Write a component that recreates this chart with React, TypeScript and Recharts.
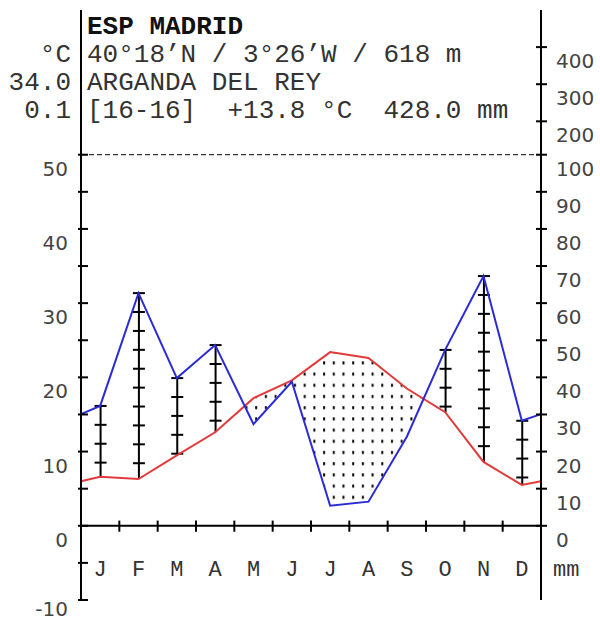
import React from "react";
import { ComposedChart, Line, Area, Bar, XAxis, YAxis, ReferenceLine } from "recharts";

const months = ["J", "F", "M", "A", "M", "J", "J", "A", "S", "O", "N", "D"];
const tempC = [6.6, 6.3, 9.5, 12.6, 17.2, 19.6, 23.4, 22.6, 18.5, 15.3, 8.6, 5.5];
const precipMm = [32.3, 62.7, 39.8, 48.7, 27.4, 38.8, 5.4, 6.5, 24.0, 47.4, 67.3, 28.3];
// values at the left / right border of the diagram
const edgeTemp = 6.0;
const edgePrecip = 30.1;

const leftTicks = [-10, -5, 0, 5, 10, 15, 20, 25, 30, 35, 40, 45, 50];
const rightTicksMm = [0, 10, 20, 30, 40, 50, 60, 70, 80, 90, 100, 200, 300, 400];
const monthBounds = [1, 2, 3, 4, 5, 6, 7, 8, 9, 10, 11];

const headerLines = [
  "ESP MADRID",
  "40°18’N / 3°26’W / 618 m",
  "ARGANDA DEL REY",
  "[16-16]  +13.8 °C  428.0 mm",
];
const headerLeft = ["", "°C", "34.0", "0.1"];

const MONO = "'Liberation Mono', 'DejaVu Sans Mono', monospace";
const SANS = "'DejaVu Sans', Verdana, sans-serif";

// mm -> right axis units (0-100 mm linear, compressed above)
const toAxis = (mm: number) => (mm <= 100 ? mm : 89 + mm / 10);

const rows = [
  { x: 0, t: edgeTemp, p: edgePrecip, hum: null as number[] | null },
  ...months.map((m, i) => ({
    x: i + 0.5,
    t: tempC[i],
    p: precipMm[i],
    hum: precipMm[i] > tempC[i] * 2 ? [tempC[i] * 2, precipMm[i]] : null,
  })),
  { x: 12, t: edgeTemp, p: edgePrecip, hum: null as number[] | null },
];

const LeftTick = (props: any) => {
  const { x, y, payload } = props;
  const v = payload.value;
  return (
    <g>
      <line x1={x - 3} x2={x + 7} y1={y} y2={y} stroke="#000" strokeWidth={2} />
      {v % 10 === 0 && (
        <text
          x={x - 13}
          y={v === -10 ? y + 16 : y + 21}
          textAnchor="end"
          fontFamily={SANS}
          fontSize={20}
          fill="#444"
        >
          {v}
        </text>
      )}
    </g>
  );
};

const RightTick = (props: any) => {
  const { x, y, payload } = props;
  const mm = rightTicksMm.find((m) => Math.abs(toAxis(m) - payload.value) < 0.01);
  return (
    <g>
      <line x1={x - 5} x2={x + 6} y1={y} y2={y} stroke="#000" strokeWidth={2} />
      <text x={x + 15} y={y + 21} textAnchor="start" fontFamily={SANS} fontSize={20} fill="#444">
        {mm}
      </text>
    </g>
  );
};

const MonthTick = (props: any) => {
  const { x, y, payload } = props;
  const i = Math.floor(payload.value);
  return (
    <text x={x} y={y - 24} textAnchor="middle" fontFamily={MONO} fontSize={22} fill="#333">
      {months[i]}
    </text>
  );
};

const HumidBar = (props: any) => {
  const { x, y, width, height } = props;
  if (height == null || Math.abs(height) < 1) return null;
  const top = Math.min(y, y + height);
  const bottom = Math.max(y, y + height);
  const cx = x + width / 2;
  const marks = [];
  for (let ty = top; ty <= bottom + 1; ty += 18.9) {
    marks.push(<line key={ty} x1={cx - 6} x2={cx + 6} y1={ty} y2={ty} stroke="#000" strokeWidth={2} />);
  }
  return (
    <g>
      <line x1={cx} x2={cx} y1={top} y2={bottom} stroke="#000" strokeWidth={2} />
      {marks}
    </g>
  );
};

export default function App() {
  return (
    <div style={{ position: "absolute", left: 0, top: 0, width: 600, height: 621, background: "#fff" }}>
      <svg width={0} height={0} style={{ position: "absolute" }}>
        <defs>
          <pattern id="dots" patternUnits="userSpaceOnUse" width={9.7} height={11.2}>
            <rect x={3} y={3} width={2} height={3} fill="#000" />
          </pattern>
        </defs>
      </svg>
      <ComposedChart width={600} height={621} data={rows} margin={{ top: 10, right: 0, bottom: 0, left: 0 }}>
        <XAxis
          dataKey="x"
          type="number"
          domain={[0, 12]}
          ticks={months.map((_, i) => i + 0.5)}
          interval={0}
          axisLine={false}
          tickLine={false}
          tickSize={0}
          tickMargin={0}
          height={21}
          tick={<MonthTick />}
        />
        <YAxis
          yAxisId="t"
          width={81}
          domain={[-10, 69.5]}
          ticks={leftTicks}
          interval={0}
          tickSize={0}
          tickMargin={0}
          tickLine={false}
          axisLine={{ stroke: "#000", strokeWidth: 2 }}
          tick={<LeftTick />}
        />
        <YAxis
          yAxisId="p"
          orientation="right"
          width={59}
          domain={[-20, 139]}
          ticks={rightTicksMm.map(toAxis)}
          interval={0}
          tickSize={0}
          tickMargin={0}
          tickLine={false}
          axisLine={{ stroke: "#000", strokeWidth: 2 }}
          tick={<RightTick />}
        />
        <Area
          yAxisId="t"
          dataKey="t"
          type="linear"
          stroke="none"
          fill="url(#dots)"
          fillOpacity={1}
          baseValue={0}
          isAnimationActive={false}
        />
        <Area
          yAxisId="p"
          dataKey="p"
          type="linear"
          stroke="none"
          fill="#fff"
          fillOpacity={1}
          baseValue={0}
          isAnimationActive={false}
        />
        <Bar yAxisId="p" dataKey="hum" barSize={12} shape={<HumidBar />} isAnimationActive={false} />
        <ReferenceLine yAxisId="t" y={50} stroke="#000" strokeWidth={1} strokeDasharray="5 3" />
        <ReferenceLine yAxisId="t" y={0} stroke="#000" strokeWidth={2} />
        {monthBounds.map((b) => (
          <ReferenceLine
            key={b}
            yAxisId="t"
            segment={[
              { x: b, y: -0.8 },
              { x: b, y: 0.7 },
            ]}
            stroke="#000"
            strokeWidth={2}
          />
        ))}
        <Line yAxisId="t" dataKey="t" type="linear" stroke="#e23b3b" strokeWidth={2} dot={false} isAnimationActive={false} />
        <Line yAxisId="p" dataKey="p" type="linear" stroke="#2b2bd6" strokeWidth={2} dot={false} isAnimationActive={false} />
      </ComposedChart>
      <svg width={600} height={621} style={{ position: "absolute", left: 0, top: 0, pointerEvents: "none" }}>
        {headerLines.map((s, i) => (
          <text
            key={i}
            x={87}
            y={34 + i * 28}
            fontFamily={MONO}
            fontSize={26}
            fontWeight={i === 0 ? "bold" : "normal"}
            fill={i === 0 ? "#111" : "#333"}
            style={{ whiteSpace: "pre" }}
          >
            {s}
          </text>
        ))}
        {headerLeft.map((s, i) => (
          <text key={i} x={71} y={34 + i * 28} textAnchor="end" fontFamily={MONO} fontSize={26} fill="#333">
            {s}
          </text>
        ))}
        <text x={553} y={576} fontFamily={MONO} fontSize={22} fill="#333">
          mm
        </text>
      </svg>
    </div>
  );
}
